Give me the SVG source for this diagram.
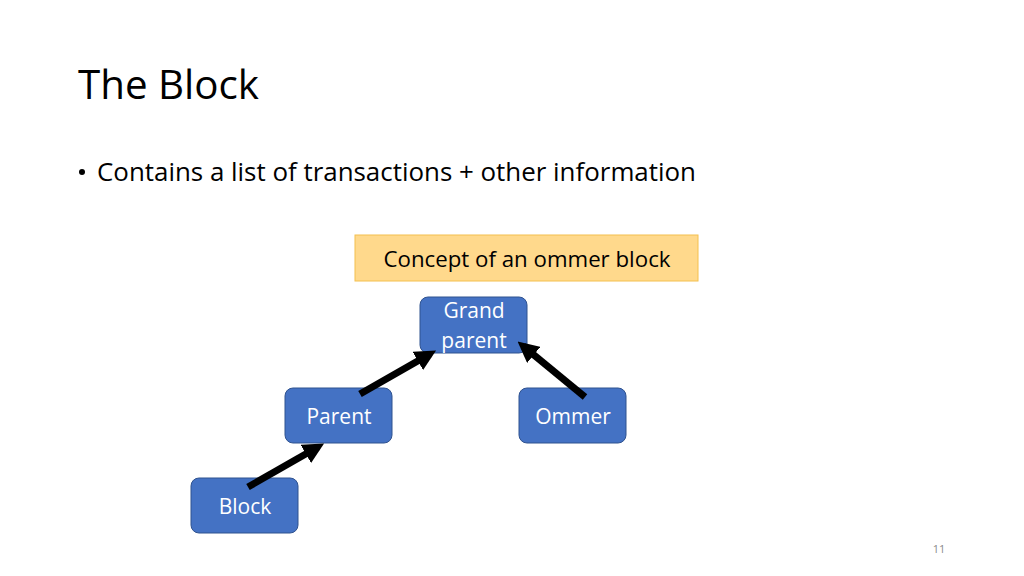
<svg xmlns="http://www.w3.org/2000/svg" width="1024" height="576" viewBox="0 0 1024 576">
<style>
.t{font-family:"Open Sans","Noto Sans","Liberation Sans",sans-serif}
.node rect{fill:#4472C4;stroke:#2F528F;stroke-width:1}
.node text{fill:#fff;font-size:21px;text-anchor:middle}
.conn line{stroke:#000;stroke-width:7;marker-end:url(#ah)}
</style>
<defs>
<marker id="ah" markerWidth="3" markerHeight="3" refX="2" refY="1.5" orient="auto" markerUnits="strokeWidth">
<path d="M0,0 L3,1.5 L0,3 z" fill="#000"/>
</marker>
</defs>
<rect width="1024" height="576" fill="#fff"/>
<text class="t" x="78" y="99" font-size="40" fill="#000" textLength="181" lengthAdjust="spacingAndGlyphs">The Block</text>
<circle cx="82" cy="172" r="3" fill="#000"/>
<text class="t" x="97" y="181" font-size="25" fill="#000" textLength="599" lengthAdjust="spacingAndGlyphs">Contains a list of transactions + other information</text>
<g id="concept">
<rect x="355" y="235" width="343" height="46" fill="#FFD98C" stroke="#F4C04F" stroke-width="1"/>
<text class="t" x="527" y="267" font-size="21" fill="#000" text-anchor="middle" textLength="287" lengthAdjust="spacingAndGlyphs">Concept of an ommer block</text>
</g>
<g id="grandparent" class="node t">
<rect x="420" y="297" width="107" height="56" rx="8"/>
<text x="474" y="318">Grand</text>
<text x="474" y="348">parent</text>
</g>
<g id="parent" class="node t">
<rect x="285" y="388" width="107" height="55" rx="8"/>
<text x="339" y="424">Parent</text>
</g>
<g id="ommer" class="node t">
<rect x="519" y="388" width="107" height="55" rx="8"/>
<text x="573" y="424">Ommer</text>
</g>
<g id="block" class="node t">
<rect x="191" y="478" width="107" height="55" rx="8"/>
<text x="245" y="514">Block</text>
</g>
<g id="connectors" class="conn">
<line x1="248" y1="487" x2="318" y2="447"/>
<line x1="360" y1="394" x2="430" y2="354"/>
<line x1="585" y1="397" x2="523" y2="346"/>
</g>
<text class="t" x="939" y="553" font-size="11" fill="#8a8a8a" text-anchor="middle">11</text>
</svg>
